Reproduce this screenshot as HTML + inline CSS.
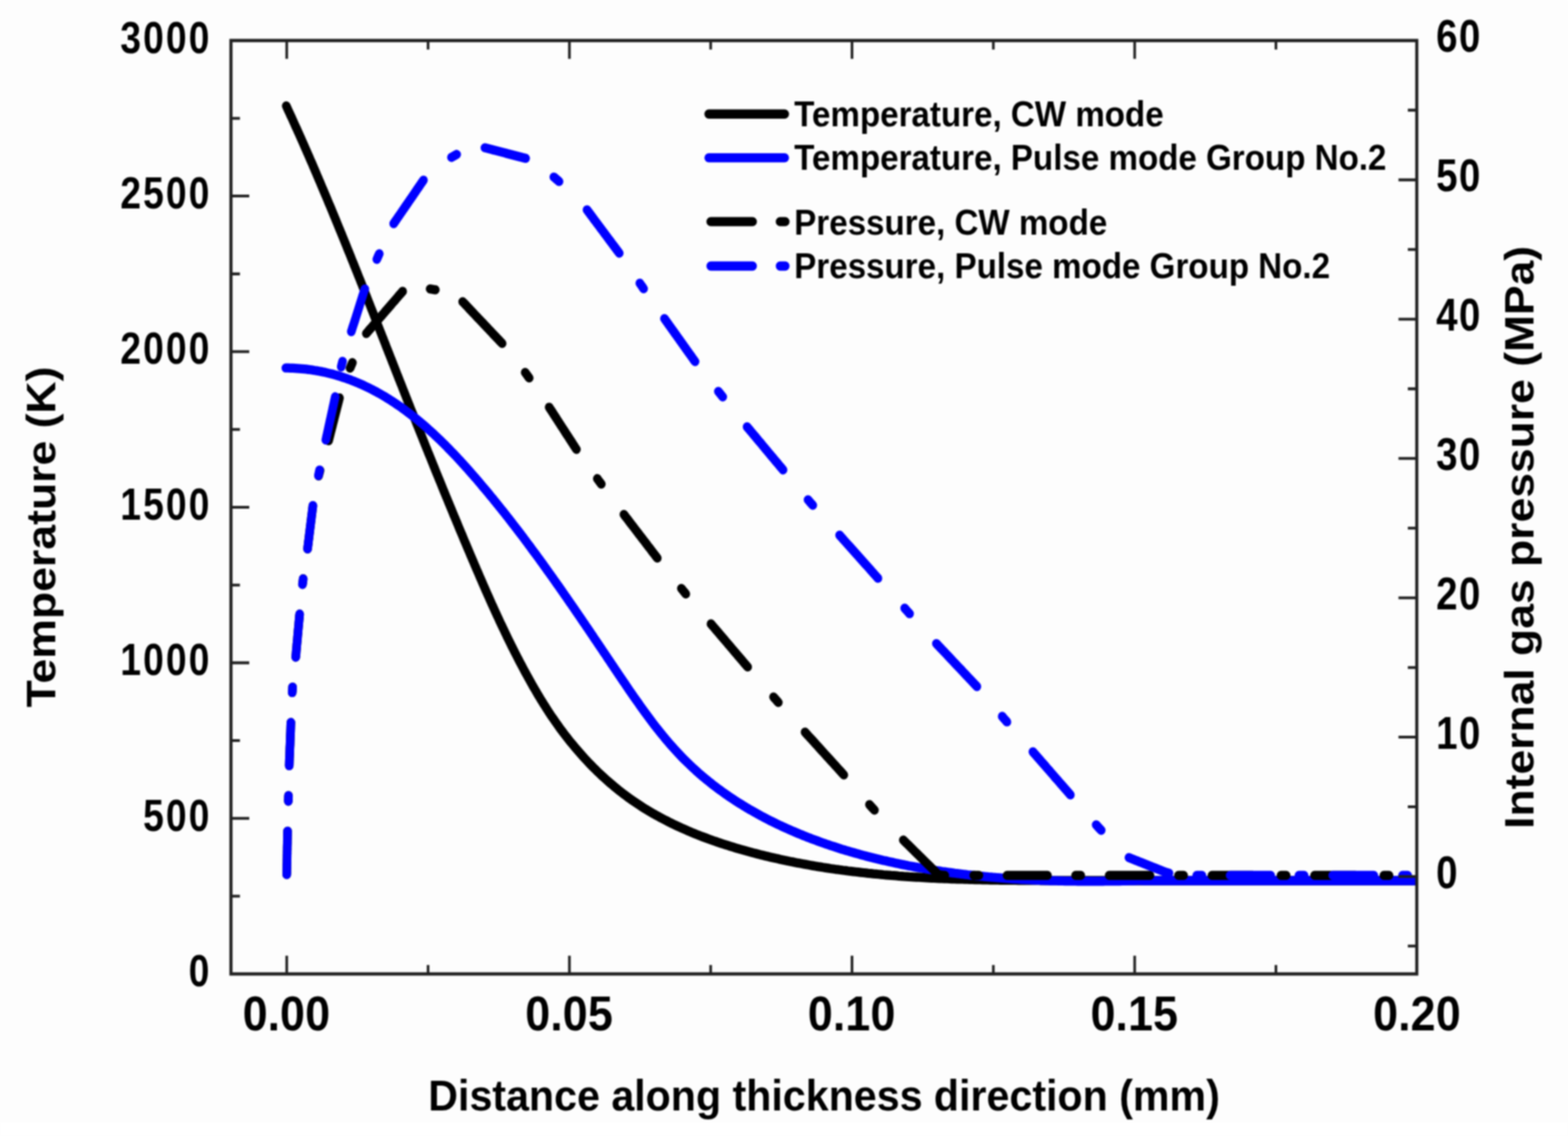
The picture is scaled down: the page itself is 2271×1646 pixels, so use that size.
<!DOCTYPE html><html><head><meta charset="utf-8"><title>Temperature and pressure profiles</title><style>html,body{margin:0;padding:0;background:#fdfdfd;}svg{display:block;}#w{filter:blur(1px);width:2271px;height:1646px;}</style></head><body>
<div id="w">
<svg xmlns="http://www.w3.org/2000/svg" width="2271" height="1646" viewBox="0 0 2271 1646">
<rect x="0" y="0" width="2271" height="1626" fill="#fdfdfd"/><rect x="0" y="1626" width="2271" height="20" fill="#ffffff"/>
<g transform="scale(1,1.062)" font-family="Liberation Sans, Arial, sans-serif" font-weight="bold">
<defs><clipPath id="pc"><rect x="334.5" y="55.3" width="1717.5" height="1273.5"/></clipPath></defs>
<g fill="none" stroke-width="12.5" stroke-linecap="round" stroke-linejoin="round" clip-path="url(#pc)">
<path d="M414.6,144.5 L416.1,147.6 L417.6,150.8 L419.2,153.9 L420.7,157.1 L422.3,160.2 L423.8,163.4 L425.3,166.5 L426.8,169.7 L428.3,172.9 L429.9,176 L431.4,179.2 L432.9,182.3 L434.4,185.5 L435.9,188.7 L437.4,191.9 L438.9,195 L440.4,198.2 L441.8,201.4 L443.3,204.5 L444.8,207.7 L446.3,210.9 L447.8,214.1 L449.2,217.3 L450.7,220.5 L452.2,223.6 L453.6,226.8 L455.1,230 L456.5,233.2 L458,236.4 L459.4,239.6 L460.9,242.8 L462.3,246 L463.8,249.2 L465.2,252.4 L466.6,255.6 L468.1,258.8 L469.5,262 L470.9,265.2 L472.4,268.4 L473.8,271.6 L475.2,274.8 L476.6,278 L478.1,281.2 L479.5,284.4 L480.9,287.6 L482.3,290.8 L483.7,294 L485.1,297.2 L486.5,300.4 L487.9,303.7 L489.3,306.9 L490.7,310.1 L492.1,313.3 L493.5,316.5 L494.9,319.7 L496.3,323 L497.7,326.2 L499.1,329.4 L500.5,332.6 L501.8,335.8 L503.2,339.1 L504.6,342.3 L506,345.5 L507.4,348.7 L508.7,351.9 L510.1,355.2 L511.5,358.4 L512.8,361.6 L514.2,364.8 L515.6,368.1 L517,371.3 L518.3,374.5 L519.7,377.8 L521.1,381 L522.4,384.2 L523.8,387.4 L525.1,390.7 L526.5,393.9 L527.9,397.1 L529.2,400.4 L530.6,403.6 L531.9,406.8 L533.3,410.1 L534.6,413.3 L536,416.5 L537.3,419.8 L538.7,423 L540,426.2 L541.4,429.4 L542.7,432.7 L544.1,435.9 L545.4,439.1 L546.8,442.4 L548.1,445.6 L549.5,448.8 L550.8,452.1 L552.2,455.3 L553.5,458.5 L554.9,461.8 L556.2,465 L557.6,468.2 L558.9,471.5 L560.2,474.7 L561.6,477.9 L562.9,481.2 L564.3,484.4 L565.6,487.6 L567,490.8 L568.3,494.1 L569.7,497.3 L571,500.5 L572.4,503.8 L573.7,507 L575,510.2 L576.4,513.4 L577.7,516.7 L579.1,519.9 L580.4,523.1 L581.8,526.3 L583.1,529.6 L584.5,532.8 L585.8,536 L587.2,539.2 L588.5,542.5 L589.9,545.7 L591.2,548.9 L592.6,552.1 L593.9,555.3 L595.3,558.6 L596.7,561.8 L598,565 L599.4,568.2 L600.7,571.4 L602.1,574.6 L603.4,577.9 L604.8,581.1 L606.2,584.3 L607.5,587.5 L608.9,590.7 L610.3,593.9 L611.6,597.1 L613,600.4 L614.4,603.6 L615.7,606.8 L617.1,610 L618.5,613.2 L619.8,616.4 L621.2,619.6 L622.6,622.8 L624,626 L625.3,629.2 L626.7,632.4 L628.1,635.7 L629.5,638.9 L630.8,642.1 L632.2,645.3 L633.6,648.5 L635,651.7 L636.4,654.9 L637.8,658.1 L639.2,661.3 L640.5,664.5 L641.9,667.7 L643.3,670.9 L644.7,674.1 L646.1,677.3 L647.5,680.5 L648.9,683.7 L650.3,686.9 L651.7,690.1 L653.1,693.3 L654.5,696.5 L655.9,699.7 L657.3,703 L658.8,706.2 L660.2,709.4 L661.6,712.6 L663,715.8 L664.4,719 L665.8,722.2 L667.2,725.4 L668.7,728.6 L670.1,731.8 L671.5,735 L672.9,738.2 L674.4,741.4 L675.8,744.6 L677.2,747.8 L678.7,751 L680.1,754.2 L681.5,757.4 L683,760.6 L684.4,763.8 L685.9,767 L687.3,770.2 L688.8,773.4 L690.2,776.6 L691.7,779.8 L693.2,783 L694.6,786.2 L696.1,789.4 L697.6,792.6 L699,795.8 L700.5,799 L702,802.2 L703.5,805.4 L705,808.6 L706.5,811.8 L708,814.9 L709.5,818.1 L711,821.3 L712.5,824.5 L714.1,827.7 L715.6,830.8 L717.1,834 L718.7,837.2 L720.2,840.4 L721.8,843.5 L723.3,846.7 L724.9,849.9 L726.5,853 L728.1,856.2 L729.7,859.3 L731.3,862.5 L732.9,865.6 L734.5,868.8 L736.1,871.9 L737.7,875 L739.4,878.2 L741,881.3 L742.7,884.4 L744.3,887.5 L746,890.6 L747.7,893.7 L749.4,896.9 L751.1,900 L752.8,903.1 L754.5,906.1 L756.3,909.2 L758,912.3 L759.7,915.4 L761.5,918.5 L763.3,921.5 L765.1,924.6 L766.9,927.6 L768.7,930.7 L770.5,933.7 L772.3,936.8 L774.2,939.8 L776.1,942.8 L777.9,945.8 L779.8,948.8 L781.7,951.8 L783.6,954.8 L785.6,957.7 L787.5,960.7 L789.5,963.6 L791.5,966.5 L793.5,969.5 L795.5,972.4 L797.5,975.3 L799.6,978.2 L801.7,981 L803.8,983.9 L805.9,986.7 L808,989.5 L810.2,992.4 L812.3,995.2 L814.5,997.9 L816.7,1000.7 L818.9,1003.4 L821.2,1006.2 L823.5,1008.9 L825.7,1011.6 L828.1,1014.3 L830.4,1016.9 L832.7,1019.6 L835.1,1022.2 L837.5,1024.8 L839.9,1027.4 L842.3,1030 L844.8,1032.6 L847.2,1035.1 L849.7,1037.6 L852.2,1040.1 L854.7,1042.6 L857.3,1045.1 L859.8,1047.5 L862.4,1049.9 L865,1052.3 L867.7,1054.7 L870.3,1057.1 L873,1059.4 L875.7,1061.7 L878.4,1064 L881.1,1066.3 L883.8,1068.5 L886.6,1070.7 L889.4,1072.9 L892.2,1075.1 L895,1077.3 L897.9,1079.4 L900.7,1081.5 L903.6,1083.6 L906.5,1085.6 L909.4,1087.7 L912.4,1089.7 L915.4,1091.7 L918.4,1093.6 L921.4,1095.5 L924.4,1097.4 L927.4,1099.3 L930.5,1101.2 L933.6,1103 L936.7,1104.8 L939.8,1106.6 L943,1108.3 L946.1,1110.1 L949.3,1111.8 L952.5,1113.4 L955.7,1115.1 L958.9,1116.7 L962.2,1118.3 L965.5,1119.9 L968.7,1121.5 L972,1123 L975.3,1124.5 L978.7,1126 L982,1127.5 L985.3,1128.9 L988.7,1130.4 L992.1,1131.8 L995.5,1133.2 L998.9,1134.5 L1002.3,1135.9 L1005.7,1137.2 L1009.1,1138.5 L1012.6,1139.8 L1016,1141.1 L1019.5,1142.3 L1023,1143.5 L1026.5,1144.7 L1030,1145.9 L1033.5,1147.1 L1037,1148.2 L1040.5,1149.4 L1044,1150.5 L1047.6,1151.6 L1051.1,1152.7 L1054.7,1153.7 L1058.2,1154.8 L1061.8,1155.8 L1065.3,1156.8 L1068.9,1157.8 L1072.5,1158.8 L1076.1,1159.7 L1079.7,1160.7 L1083.2,1161.6 L1086.8,1162.5 L1090.4,1163.5 L1094,1164.3 L1097.6,1165.2 L1101.2,1166.1 L1104.8,1166.9 L1108.5,1167.8 L1112.1,1168.6 L1115.7,1169.4 L1119.3,1170.2 L1122.9,1171 L1126.5,1171.7 L1130.1,1172.5 L1133.7,1173.2 L1137.4,1173.9 L1141,1174.7 L1144.6,1175.4 L1148.2,1176 L1151.9,1176.7 L1155.5,1177.4 L1159.1,1178 L1162.8,1178.7 L1166.4,1179.3 L1170,1179.9 L1173.7,1180.5 L1177.3,1181.1 L1180.9,1181.7 L1184.6,1182.3 L1188.2,1182.8 L1191.9,1183.4 L1195.5,1183.9 L1199.1,1184.4 L1202.8,1185 L1206.4,1185.5 L1210.1,1186 L1213.7,1186.4 L1217.4,1186.9 L1221,1187.4 L1224.7,1187.8 L1228.4,1188.3 L1232,1188.7 L1235.7,1189.1 L1239.3,1189.5 L1243,1189.9 L1246.6,1190.3 L1250.3,1190.7 L1254,1191.1 L1257.6,1191.5 L1261.3,1191.8 L1265,1192.2 L1268.6,1192.5 L1272.3,1192.8 L1276,1193.1 L1279.6,1193.5 L1283.3,1193.8 L1287,1194.1 L1290.6,1194.4 L1294.3,1194.6 L1298,1194.9 L1301.7,1195.2 L1305.3,1195.4 L1309,1195.7 L1312.7,1195.9 L1316.4,1196.2 L1320,1196.4 L1323.7,1196.6 L1327.4,1196.8 L1331.1,1197 L1334.7,1197.2 L1338.4,1197.4 L1342.1,1197.6 L1345.8,1197.8 L1349.5,1198 L1353.1,1198.1 L1356.8,1198.3 L1360.5,1198.5 L1364.2,1198.6 L1367.9,1198.8 L1371.6,1198.9 L1375.2,1199 L1378.9,1199.2 L1382.6,1199.3 L1386.3,1199.4 L1390,1199.5 L1393.7,1199.6 L1397.4,1199.7 L1401,1199.8 L1404.7,1199.9 L1408.4,1200 L1412.1,1200.1 L1415.8,1200.2 L1419.5,1200.3 L1423.2,1200.4 L1426.9,1200.4 L1430.5,1200.5 L1434.2,1200.6 L1437.9,1200.6 L1441.6,1200.7 L1445.3,1200.7 L1449,1200.8 L1452.7,1200.8 L1456.3,1200.9 L1460,1200.9 L1463.7,1201 L1467.4,1201 L1471.1,1201 L1474.8,1201.1 L1478.5,1201.1 L1482.2,1201.1 L1485.8,1201.1 L1489.5,1201.2 L1493.2,1201.2 L1496.9,1201.2 L1500.6,1201.2 L1504.3,1201.2 L1507.9,1201.3 L1511.6,1201.3 L1515.3,1201.3 L1519,1201.3 L1522.7,1201.3 L1526.4,1201.3 L1530,1201.3 L1533.7,1201.3 L1537.4,1201.3 L1541.1,1201.4 L1544.8,1201.4 L1548.4,1201.4 L1552.1,1201.4 L1555.8,1201.4 L1559.5,1201.4 L1563.1,1201.4 L1566.8,1201.4 L1570.5,1201.4 L1574.2,1201.4 L1577.8,1201.4 L1581.5,1201.5 L1585.2,1201.5 L1588.9,1201.5 L1592.5,1201.5 L1596.2,1201.5 L1599.9,1201.5 L1607.5,1201.5 L1615.2,1201.5 L1622.8,1201.5 L1630.5,1201.5 L1638.2,1201.5 L1645.8,1201.5 L1653.5,1201.5 L1661.2,1201.5 L1668.8,1201.5 L1676.5,1201.5 L1684.2,1201.5 L1691.8,1201.5 L1699.5,1201.5 L1707.1,1201.5 L1714.8,1201.5 L1722.5,1201.5 L1730.1,1201.5 L1737.8,1201.5 L1745.5,1201.5 L1753.1,1201.5 L1760.8,1201.5 L1768.5,1201.5 L1776.1,1201.5 L1783.8,1201.5 L1791.4,1201.5 L1799.1,1201.5 L1806.8,1201.5 L1814.4,1201.5 L1822.1,1201.5 L1829.8,1201.5 L1837.4,1201.5 L1845.1,1201.5 L1852.8,1201.5 L1860.4,1201.5 L1868.1,1201.5 L1875.7,1201.5 L1883.4,1201.5 L1891.1,1201.5 L1898.7,1201.5 L1906.4,1201.5 L1914.1,1201.5 L1921.7,1201.5 L1929.4,1201.5 L1937,1201.5 L1944.7,1201.5 L1952.4,1201.5 L1960,1201.5 L1967.7,1201.5 L1975.4,1201.5 L1983,1201.5 L1990.7,1201.5 L1998.4,1201.5 L2006,1201.5 L2013.7,1201.5 L2021.3,1201.5 L2029,1201.5 L2036.7,1201.5 L2044.3,1201.5 L2052,1201.5" stroke="#000"/>
<path d="M414,502.1 L417.3,502.1 L420.6,502.2 L423.9,502.3 L427.2,502.5 L430.4,502.7 L433.7,502.9 L436.9,503.1 L440.1,503.4 L443.3,503.7 L446.4,504.1 L449.6,504.5 L452.7,504.9 L455.8,505.4 L458.9,505.8 L462,506.4 L465.1,506.9 L468.1,507.5 L471.2,508.1 L474.2,508.8 L477.2,509.5 L480.2,510.2 L483.2,510.9 L486.1,511.7 L489.1,512.5 L492,513.3 L494.9,514.2 L497.8,515.1 L500.7,516 L503.5,517 L506.4,517.9 L509.2,519 L512.1,520 L514.9,521.1 L517.7,522.1 L520.4,523.3 L523.2,524.4 L526,525.6 L528.7,526.8 L531.4,528 L534.1,529.2 L536.8,530.5 L539.5,531.8 L542.2,533.1 L544.8,534.4 L547.5,535.8 L550.1,537.2 L552.7,538.6 L555.3,540 L557.9,541.5 L560.5,543 L563.1,544.5 L565.6,546 L568.1,547.5 L570.7,549.1 L573.2,550.7 L575.7,552.3 L578.2,553.9 L580.7,555.5 L583.1,557.2 L585.6,558.9 L588,560.6 L590.5,562.3 L592.9,564 L595.3,565.8 L597.7,567.6 L600.1,569.3 L602.5,571.2 L604.9,573 L607.2,574.8 L609.6,576.7 L611.9,578.5 L614.2,580.4 L616.5,582.3 L618.8,584.2 L621.1,586.2 L623.4,588.1 L625.7,590.1 L628,592 L630.2,594 L632.5,596 L634.7,598 L636.9,600 L639.2,602.1 L641.4,604.1 L643.6,606.2 L645.8,608.2 L647.9,610.3 L650.1,612.4 L652.3,614.5 L654.4,616.6 L656.6,618.7 L658.7,620.8 L660.9,622.9 L663,625.1 L665.1,627.2 L667.2,629.4 L669.3,631.6 L671.4,633.7 L673.5,635.9 L675.6,638.1 L677.7,640.3 L679.7,642.5 L681.8,644.7 L683.8,646.9 L685.9,649.1 L687.9,651.3 L690,653.5 L692,655.8 L694,658 L696,660.2 L698,662.5 L700,664.7 L702,666.9 L704,669.2 L706,671.4 L708,673.7 L709.9,675.9 L711.9,678.2 L713.9,680.4 L715.8,682.7 L717.8,685 L719.7,687.2 L721.7,689.5 L723.6,691.8 L725.5,694 L727.4,696.3 L729.4,698.6 L731.3,700.8 L733.2,703.1 L735.1,705.4 L737,707.7 L738.9,710 L740.8,712.3 L742.6,714.6 L744.5,716.8 L746.4,719.1 L748.3,721.4 L750.1,723.7 L752,726 L753.9,728.3 L755.7,730.6 L757.6,732.9 L759.4,735.3 L761.3,737.6 L763.1,739.9 L764.9,742.2 L766.8,744.5 L768.6,746.8 L770.4,749.2 L772.2,751.5 L774,753.8 L775.9,756.1 L777.7,758.5 L779.5,760.8 L781.3,763.1 L783.1,765.5 L784.9,767.8 L786.7,770.1 L788.5,772.5 L790.3,774.8 L792,777.2 L793.8,779.5 L795.6,781.9 L797.4,784.2 L799.2,786.6 L800.9,788.9 L802.7,791.3 L804.5,793.6 L806.2,796 L808,798.3 L809.8,800.7 L811.5,803.1 L813.3,805.4 L815,807.8 L816.8,810.2 L818.5,812.6 L820.3,814.9 L822,817.3 L823.8,819.7 L825.5,822.1 L827.3,824.4 L829,826.8 L830.8,829.2 L832.5,831.6 L834.2,834 L836,836.4 L837.7,838.7 L839.4,841.1 L841.2,843.5 L842.9,845.9 L844.6,848.3 L846.4,850.7 L848.1,853.1 L849.8,855.5 L851.6,857.9 L853.3,860.3 L855,862.7 L856.7,865.1 L858.5,867.5 L860.2,870 L861.9,872.4 L863.7,874.8 L865.4,877.2 L867.1,879.6 L868.8,882 L870.6,884.4 L872.3,886.9 L874,889.3 L875.8,891.7 L877.5,894.1 L879.2,896.5 L880.9,899 L882.7,901.4 L884.4,903.8 L886.1,906.3 L887.9,908.7 L889.6,911.1 L891.3,913.6 L893.1,916 L894.8,918.4 L896.5,920.9 L898.3,923.3 L900,925.7 L901.8,928.2 L903.5,930.6 L905.3,933 L907,935.5 L908.8,937.9 L910.5,940.3 L912.3,942.8 L914.1,945.2 L915.8,947.6 L917.6,950 L919.4,952.4 L921.2,954.8 L923,957.2 L924.8,959.6 L926.6,962 L928.4,964.4 L930.2,966.8 L932,969.2 L933.8,971.6 L935.7,973.9 L937.5,976.3 L939.4,978.6 L941.2,981 L943.1,983.3 L945,985.7 L946.8,988 L948.7,990.3 L950.6,992.6 L952.6,994.9 L954.5,997.2 L956.4,999.4 L958.3,1001.7 L960.3,1003.9 L962.3,1006.2 L964.2,1008.4 L966.2,1010.6 L968.2,1012.8 L970.2,1015 L972.2,1017.2 L974.3,1019.3 L976.3,1021.5 L978.4,1023.6 L980.4,1025.7 L982.5,1027.8 L984.6,1029.9 L986.7,1032 L988.8,1034.1 L991,1036.1 L993.1,1038.1 L995.3,1040.1 L997.5,1042.1 L999.7,1044.1 L1001.9,1046.1 L1004.1,1048 L1006.4,1050 L1008.6,1051.9 L1010.9,1053.8 L1013.1,1055.7 L1015.4,1057.5 L1017.7,1059.4 L1020.1,1061.2 L1022.4,1063 L1024.7,1064.8 L1027.1,1066.6 L1029.5,1068.4 L1031.8,1070.2 L1034.2,1071.9 L1036.6,1073.6 L1039.1,1075.4 L1041.5,1077.1 L1043.9,1078.7 L1046.4,1080.4 L1048.8,1082.1 L1051.3,1083.7 L1053.8,1085.3 L1056.3,1087 L1058.8,1088.5 L1061.3,1090.1 L1063.9,1091.7 L1066.4,1093.3 L1069,1094.8 L1071.5,1096.3 L1074.1,1097.8 L1076.7,1099.3 L1079.3,1100.8 L1081.9,1102.3 L1084.5,1103.7 L1087.1,1105.2 L1089.8,1106.6 L1092.4,1108 L1095.1,1109.4 L1097.7,1110.8 L1100.4,1112.2 L1103.1,1113.6 L1105.8,1114.9 L1108.5,1116.2 L1111.2,1117.6 L1113.9,1118.9 L1116.6,1120.2 L1119.4,1121.4 L1122.1,1122.7 L1124.9,1124 L1127.6,1125.2 L1130.4,1126.4 L1133.2,1127.7 L1136,1128.9 L1138.8,1130.1 L1141.6,1131.2 L1144.4,1132.4 L1147.2,1133.6 L1150,1134.7 L1152.8,1135.8 L1155.7,1137 L1158.5,1138.1 L1161.4,1139.2 L1164.2,1140.3 L1167.1,1141.3 L1169.9,1142.4 L1172.8,1143.4 L1175.7,1144.5 L1178.6,1145.5 L1181.5,1146.5 L1184.4,1147.5 L1187.3,1148.5 L1190.2,1149.5 L1193.1,1150.4 L1196,1151.4 L1199,1152.3 L1201.9,1153.3 L1204.8,1154.2 L1207.8,1155.1 L1210.7,1156 L1213.7,1156.9 L1216.6,1157.8 L1219.6,1158.7 L1222.5,1159.5 L1225.5,1160.4 L1228.5,1161.2 L1231.5,1162 L1234.4,1162.8 L1237.4,1163.6 L1240.4,1164.4 L1243.4,1165.2 L1246.4,1166 L1249.4,1166.8 L1252.4,1167.5 L1255.4,1168.3 L1258.4,1169 L1261.4,1169.7 L1264.4,1170.4 L1267.4,1171.1 L1270.5,1171.8 L1273.5,1172.5 L1276.5,1173.2 L1279.5,1173.9 L1282.6,1174.5 L1285.6,1175.2 L1288.6,1175.8 L1291.6,1176.4 L1294.7,1177.1 L1297.7,1177.7 L1300.7,1178.3 L1303.8,1178.9 L1306.8,1179.5 L1309.9,1180 L1312.9,1180.6 L1315.9,1181.2 L1319,1181.7 L1322,1182.2 L1325.1,1182.8 L1328.1,1183.3 L1331.1,1183.8 L1334.2,1184.3 L1337.2,1184.8 L1340.3,1185.3 L1343.3,1185.8 L1346.4,1186.3 L1349.4,1186.7 L1352.5,1187.2 L1355.5,1187.7 L1358.6,1188.1 L1361.6,1188.5 L1364.7,1189 L1367.7,1189.4 L1370.8,1189.8 L1373.8,1190.2 L1376.9,1190.6 L1379.9,1191 L1383,1191.4 L1386,1191.7 L1389.1,1192.1 L1392.1,1192.5 L1395.2,1192.8 L1398.2,1193.1 L1401.3,1193.5 L1404.3,1193.8 L1407.4,1194.1 L1410.5,1194.4 L1413.5,1194.8 L1416.6,1195.1 L1419.6,1195.4 L1422.7,1195.6 L1425.8,1195.9 L1428.8,1196.2 L1431.9,1196.5 L1434.9,1196.7 L1438,1197 L1441.1,1197.2 L1444.1,1197.5 L1447.2,1197.7 L1450.2,1197.9 L1453.3,1198.1 L1456.4,1198.4 L1459.4,1198.6 L1462.5,1198.8 L1465.6,1199 L1468.6,1199.2 L1471.7,1199.3 L1474.8,1199.5 L1477.8,1199.7 L1480.9,1199.9 L1484,1200 L1487,1200.2 L1490.1,1200.3 L1493.2,1200.5 L1496.2,1200.6 L1499.3,1200.7 L1502.4,1200.9 L1505.4,1201 L1508.5,1201.1 L1511.6,1201.2 L1514.6,1201.3 L1517.7,1201.4 L1520.8,1201.5 L1523.9,1201.6 L1526.9,1201.7 L1530,1201.7 L1533.1,1201.8 L1536.1,1201.9 L1539.2,1201.9 L1542.3,1202 L1545.4,1202.1 L1548.4,1202.1 L1551.5,1202.2 L1554.6,1202.2 L1557.6,1202.2 L1560.7,1202.3 L1563.8,1202.3 L1566.9,1202.3 L1569.9,1202.3 L1573,1202.3 L1576.1,1202.3 L1579.2,1202.3 L1582.2,1202.3 L1585.3,1202.3 L1588.4,1202.3 L1591.5,1202.3 L1594.5,1202.3 L1597.6,1202.3 L1600.7,1202.2 L1603.8,1202.2 L1606.8,1202.2 L1609.9,1202.2 L1613,1202.1 L1616.1,1202.1 L1619.1,1202 L1622.2,1202 L1625.3,1201.9 L1628.4,1201.9 L1631.4,1201.8 L1634.5,1201.7 L1637.6,1201.7 L1640.7,1201.6 L1643.8,1201.5 L1646.8,1201.4 L1649.9,1201.4 L1656.7,1201.5 L1663.5,1201.5 L1670.4,1201.5 L1677.2,1201.5 L1684,1201.5 L1690.8,1201.5 L1697.6,1201.5 L1704.4,1201.5 L1711.2,1201.5 L1718.1,1201.5 L1724.9,1201.5 L1731.7,1201.5 L1738.5,1201.5 L1745.3,1201.5 L1752.1,1201.5 L1759,1201.5 L1765.8,1201.5 L1772.6,1201.5 L1779.4,1201.5 L1786.2,1201.5 L1793,1201.5 L1799.8,1201.5 L1806.7,1201.5 L1813.5,1201.5 L1820.3,1201.5 L1827.1,1201.5 L1833.9,1201.5 L1840.7,1201.5 L1847.5,1201.5 L1854.4,1201.5 L1861.2,1201.5 L1868,1201.5 L1874.8,1201.5 L1881.6,1201.5 L1888.4,1201.5 L1895.3,1201.5 L1902.1,1201.5 L1908.9,1201.5 L1915.7,1201.5 L1922.5,1201.5 L1929.3,1201.5 L1936.1,1201.5 L1943,1201.5 L1949.8,1201.5 L1956.6,1201.5 L1963.4,1201.5 L1970.2,1201.5 L1977,1201.5 L1983.8,1201.5 L1990.7,1201.5 L1997.5,1201.5 L2004.3,1201.5 L2011.1,1201.5 L2017.9,1201.5 L2024.7,1201.5 L2031.6,1201.5 L2038.4,1201.5 L2045.2,1201.5 L2052,1201.5" stroke="#0000ff"/>
<path d="M415.3,1193 L415.3,1192.8 L415.4,1190 L415.4,1187.2 L415.5,1184.4 L415.5,1181.5 L415.6,1178.7 L415.7,1175.9 L415.7,1173.1 L415.8,1170.2 L415.8,1167.4 L415.9,1164.6 L415.9,1161.8 L416,1159 L416,1156.1 L416.1,1153.3 L416.2,1150.5 L416.2,1147.7 L416.3,1144.8 L416.3,1142 L416.4,1139.2 L416.4,1136.4 L416.5,1134M417.6,1093 L417.6,1092.6 L417.7,1089.8 L417.8,1086.9 L417.8,1085.5M418.9,1044.6 L418.9,1044.6 L419,1041.8 L419.1,1038.9 L419.2,1036.1 L419.3,1033.3 L419.5,1030.5 L419.6,1027.6 L419.7,1024.8 L419.8,1022 L419.9,1019.2 L420.1,1016.4 L420.2,1013.5 L420.3,1010.7 L420.4,1007.9 L420.5,1005.1 L420.6,1002.2 L420.8,999.4 L420.9,996.6 L421,993.8 L421.1,991 L421.2,988.1 L421.3,985.8M423.2,944.9 L423.2,944.4 L423.5,941.6 L423.7,938.8 L423.8,937.4M428.3,896.6 L428.3,896.6 L428.6,893.8 L428.9,891 L429.1,888.2 L429.4,885.4 L429.7,882.5 L429.9,879.7 L430.2,876.9 L430.5,874.1 L430.8,871.3 L431,868.5 L431.3,865.7 L431.6,862.9 L431.8,860 L432.1,857.2 L432.4,854.4 L432.7,851.6 L432.9,848.8 L433.2,846 L433.5,843.2 L433.7,840.4 L434,838M438.1,797.2 L438.1,797.2 L438.5,794.4 L438.9,791.6 L439.1,789.7M445.5,748.9 L445.5,748.8 L445.8,746 L446.2,743.2 L446.6,740.4 L446.9,737.6 L447.3,734.8 L447.7,731.9 L448,729.1 L448.4,726.3 L448.8,723.5 L449.1,720.7 L449.5,717.9 L449.9,715.1 L450.2,712.3 L450.6,709.5 L451,706.7 L451.3,703.9 L451.7,701.1 L452.1,698.3 L452.4,695.5 L452.8,692.7 L453.1,690.1M461.5,649.3 L461.5,649.2 L462.2,646.5 L463,643.7 L463.5,641.8M476,601.3 L476,601.2 L476.7,598.5 L477.5,595.7 L478.2,593 L478.9,590.3 L479.7,587.5 L480.4,584.8 L481.2,582.1 L481.9,579.3 L482.6,576.6 L483.4,573.8 L484.1,571.1 L484.8,568.4 L485.6,565.6 L486.3,562.9 L487.1,560.2 L487.8,557.4 L488.5,554.7 L489.3,551.9 L490,549.2 L490.8,546.5 L491.5,543.7 L491.7,542.9M507,502.3 L507.2,502 L508.3,499.4 L509.5,496.8 L510.4,494.8M530.6,455 L530.7,454.8 L532.7,452.7 L534.6,450.5 L536.6,448.4 L538.6,446.2 L540.5,444.1 L542.5,442 L544.4,439.8 L546.4,437.7 L548.3,435.5 L550.3,433.4 L552.3,431.3 L554.2,429.1 L556.2,427 L558.1,424.8 L560.1,422.7 L562.1,420.6 L564,418.4 L566,416.3 L567.9,414.1 L569.9,412 L571.9,409.9 L573.8,407.7 L575.8,405.6 L577.7,403.4 L579.7,401.3 L581.6,399.2 L583.2,397.5M623,394.2 L623.3,394.3 L626.3,394.7 L629.2,395.2 L630.5,395.4M670.1,411.7 L670.3,411.9 L672.4,413.9 L674.5,416 L676.5,418 L678.6,420.1 L680.6,422.2 L682.7,424.2 L684.8,426.3 L686.8,428.3 L688.9,430.4 L690.9,432.4 L693,434.5 L695.1,436.5 L697.1,438.6 L699.2,440.6 L701.2,442.7 L703.3,444.7 L705.4,446.8 L707.4,448.8 L709.5,450.9 L711.6,452.9 L713.6,455 L715.7,457.1 L717.7,459.1 L719.8,461.2 L721.9,463.2 L723.9,465.3 L726,467.3 L727.3,468.6M760.6,508.2 L760.9,508.5 L762.7,510.8 L764.4,513.1 L766.2,515.4 L766.5,515.7M795.4,555.6 L795.5,555.8 L797.1,558.2 L798.8,560.5 L800.4,562.9 L802,565.3 L803.7,567.7 L805.3,570 L806.9,572.4 L808.5,574.8 L810.2,577.2 L811.8,579.5 L813.4,581.9 L815.1,584.3 L816.7,586.6 L818.3,589 L819.9,591.4 L821.6,593.8 L823.2,596.1 L824.8,598.5 L826.5,600.9 L828.1,603.2 L829.7,605.6 L831.3,608 L833,610.4 L834.6,612.7 L834.9,613.1M865.1,653 L865.4,653.4 L867.1,655.7 L868.9,657.9 L870.7,660.2 L870.9,660.5M903.6,701.9 L903.8,702.1 L905.6,704.4 L907.4,706.6 L909.3,708.9 L911.1,711.1 L912.9,713.4 L914.7,715.6 L916.6,717.8 L918.4,720.1 L920.2,722.3 L922,724.6 L923.9,726.8 L925.7,729.1 L927.5,731.3 L929.3,733.5 L931.1,735.8 L933,738 L934.8,740.3 L936.6,742.5 L938.4,744.8 L940.3,747 L942.1,749.2 L943.9,751.5 L945.7,753.7 L947.6,756 L949.4,758.2 L951.2,760.5 L952,761.4M986.8,802.8 L986.9,802.9 L988.8,805.1 L990.7,807.3 L992.6,809.5 L993.3,810.3M1029.7,851.2 L1029.8,851.3 L1031.8,853.5 L1033.7,855.6 L1035.7,857.8 L1037.6,859.9 L1039.6,862.1 L1041.5,864.2 L1043.4,866.4 L1045.4,868.5 L1047.3,870.7 L1049.3,872.8 L1051.2,875 L1053.2,877.1 L1055.1,879.3 L1057.1,881.4 L1059,883.6 L1060.9,885.7 L1062.9,887.9 L1064.8,890 L1066.8,892.2 L1068.7,894.4 L1070.7,896.5 L1072.6,898.7 L1074.6,900.8 L1076.5,903 L1078.4,905.1 L1080.4,907.3 L1082.3,909.4 L1082.9,910M1120.3,950.9 L1120.5,951.1 L1122.5,953.2 L1124.5,955.4 L1126.5,957.5 L1127.3,958.4M1166,998.9 L1166.2,999.2 L1168.2,1001.3 L1170.2,1003.4 L1172.3,1005.5 L1174.3,1007.5 L1176.3,1009.6 L1178.3,1011.7 L1180.3,1013.8 L1182.3,1015.9 L1184.4,1018 L1186.4,1020.1 L1188.4,1022.2 L1190.4,1024.3 L1192.4,1026.4 L1194.4,1028.5 L1196.4,1030.6 L1198.5,1032.7 L1200.5,1034.7 L1202.5,1036.8 L1204.5,1038.9 L1206.5,1041 L1208.5,1043.1 L1210.6,1045.2 L1212.6,1047.3 L1214.6,1049.4 L1216.6,1051.5 L1218.6,1053.6 L1220.6,1055.7 L1222.2,1057.3M1259.3,1097.8 L1259.5,1098.1 L1261.5,1100.2 L1263.5,1102.3 L1265.6,1104.3 L1266.5,1105.3M1308.3,1146.2 L1308.6,1146.4 L1310.7,1148.4 L1312.8,1150.4 L1315,1152.3 L1317.1,1154.3 L1319.2,1156.3 L1321.4,1158.3 L1323.5,1160.3 L1325.6,1162.3 L1327.8,1164.3 L1329.9,1166.2 L1332,1168.2 L1334.2,1170.2 L1336.3,1172.2 L1338.4,1174.2 L1340.6,1176.2 L1342.7,1178.2 L1344.8,1180.1 L1347,1182.1 L1349.1,1184.1 L1351.2,1186.1 L1353.4,1188.1 L1355.5,1190.1 L1357.7,1192.1 L1360.1,1193.5 L1363.1,1193.9 L1366,1194.3 L1368.4,1194.3M1410.3,1194.3 L1410.5,1194.3 L1413.5,1194.3 L1416.5,1194.3 L1417.8,1194.3M1458.5,1194.3 L1458.5,1194.3 L1461.5,1194.3 L1464.5,1194.3 L1467.5,1194.3 L1470.5,1194.3 L1473.5,1194.3 L1476.5,1194.3 L1479.5,1194.3 L1482.5,1194.3 L1485.5,1194.3 L1488.5,1194.3 L1491.5,1194.3 L1494.5,1194.3 L1497.5,1194.3 L1500.5,1194.3 L1503.5,1194.3 L1506.5,1194.3 L1509.5,1194.3 L1512.5,1194.3 L1515.5,1194.3 L1517.1,1194.3M1557.8,1194.3 L1558,1194.3 L1561,1194.3 L1564,1194.3 L1565.3,1194.3M1606.4,1194.3 L1606.5,1194.3 L1609.5,1194.3 L1612.5,1194.3 L1615.5,1194.3 L1618.5,1194.3 L1621.5,1194.3 L1624.5,1194.3 L1627.5,1194.3 L1630.5,1194.3 L1633.5,1194.3 L1636.5,1194.3 L1639.5,1194.3 L1642.5,1194.3 L1645.5,1194.3 L1648.5,1194.3 L1651.5,1194.3 L1654.5,1194.3 L1657.5,1194.3 L1660.5,1194.3 L1663.5,1194.3 L1665.6,1194.3M1706.8,1194.3 L1707,1194.3 L1710,1194.3 L1713,1194.3 L1714.3,1194.3M1755.3,1194.3 L1755.5,1194.3 L1758.5,1194.3 L1761.5,1194.3 L1764.5,1194.3 L1767.5,1194.3 L1770.5,1194.3 L1773.5,1194.3 L1776.5,1194.3 L1779.5,1194.3 L1782.5,1194.3 L1785.5,1194.3 L1788.5,1194.3 L1791.5,1194.3 L1794.5,1194.3 L1797.5,1194.3 L1800.5,1194.3 L1803.5,1194.3 L1806.5,1194.3 L1809.5,1194.3 L1812.5,1194.3 L1814.3,1194.3M1855.3,1194.3 L1855.5,1194.3 L1858.5,1194.3 L1861.5,1194.3 L1862.8,1194.3M1903.9,1194.3 L1904,1194.3 L1907,1194.3 L1910,1194.3 L1913,1194.3 L1916,1194.3 L1919,1194.3 L1922,1194.3 L1925,1194.3 L1928,1194.3 L1931,1194.3 L1934,1194.3 L1937,1194.3 L1940,1194.3 L1943,1194.3 L1946,1194.3 L1949,1194.3 L1952,1194.3 L1955,1194.3 L1958,1194.3 L1961,1194.3 L1963.1,1194.3M2004.3,1194.3 L2004.5,1194.3 L2007.5,1194.3 L2010.5,1194.3 L2011.8,1194.3" stroke="#000"/>
<path d="M415.3,1193.1 L415.3,1192.8 L415.4,1190 L415.4,1187.2 L415.5,1184.4 L415.5,1181.5 L415.6,1178.7 L415.7,1175.9 L415.7,1173.1 L415.8,1170.3 L415.8,1167.4 L415.9,1164.6 L415.9,1161.8 L416,1159 L416,1156.1 L416.1,1153.3 L416.2,1150.5 L416.2,1147.7 L416.3,1144.8 L416.3,1142 L416.4,1139.2 L416.4,1136.4 L416.5,1134.1M417.6,1093.1 L417.6,1092.6 L417.7,1089.8 L417.8,1087 L417.8,1085.6M418.9,1044.7 L418.9,1044.6 L419,1041.8 L419.1,1039 L419.2,1036.1 L419.3,1033.3 L419.5,1030.5 L419.6,1027.7 L419.7,1024.8 L419.8,1022 L419.9,1019.2 L420.1,1016.4 L420.2,1013.6 L420.3,1010.7 L420.4,1007.9 L420.5,1005.1 L420.6,1002.3 L420.8,999.4 L420.9,996.6 L421,993.8 L421.1,991 L421.2,988.1 L421.3,985.8M423.2,944.9 L423.2,944.4 L423.5,941.6 L423.7,938.8 L423.8,937.4M428.3,896.6 L428.3,896.6 L428.6,893.8 L428.9,891 L429.1,888.2 L429.4,885.4 L429.7,882.6 L429.9,879.8 L430.2,876.9 L430.5,874.1 L430.8,871.3 L431,868.5 L431.3,865.7 L431.6,862.9 L431.8,860.1 L432.1,857.3 L432.4,854.4 L432.7,851.6 L432.9,848.8 L433.2,846 L433.5,843.2 L433.7,840.4 L434,838M438.1,797.3 L438.1,797.3 L438.5,794.5 L438.9,791.7 L439.1,789.8M445.5,748.8 L445.5,748.3 L445.9,745.5 L446.3,742.7 L446.6,739.9 L447,737.1 L447.4,734.3 L447.7,731.5 L448.1,728.7 L448.5,725.9 L448.8,723.1 L449.2,720.3 L449.6,717.5 L449.9,714.7 L450.3,711.9 L450.7,709.1 L451,706.3 L451.4,703.5 L451.8,700.7 L452.1,697.9 L452.5,695.1 L452.9,692.3 L453.2,689.8M461.2,648.8 L461.2,648.7 L461.8,646 L462.4,643.2 L462.8,641.3M471.9,600.3 L471.9,600.3 L472.5,597.6 L473.1,594.8 L473.8,592.1 L474.4,589.3 L475.1,586.5 L475.7,583.8 L476.3,581 L477,578.3 L477.6,575.5 L478.3,572.7 L478.9,570 L479.6,567.2 L480.2,564.5 L480.8,561.7 L481.5,558.9 L482.1,556.2 L482.8,553.4 L483.4,550.7 L484,547.9 L484.7,545.1 L485.3,542.4 L485.5,541.4M494.2,500.5 L494.2,500.4 L494.9,497.6 L495.6,494.9 L496.1,493M508.8,452.5 L508.8,452.4 L509.7,449.7 L510.6,447 L511.5,444.3 L512.5,441.6 L513.4,439 L514.3,436.3 L515.2,433.6 L516.1,430.9 L517,428.2 L517.9,425.5 L518.8,422.8 L519.7,420.1 L520.6,417.4 L521.5,414.7 L522.4,412 L523.3,409.3 L524.2,406.6 L525.1,403.9 L526,401.3 L526.9,398.6 L527.8,395.9 L528.4,394.3M545.8,353.8 L545.9,353.5 L547.1,350.9 L548.3,348.3 L549.3,346.3M570.2,305.1 L570.2,305 L571.9,302.7 L573.6,300.4 L575.3,298 L577,295.7 L578.7,293.4 L580.4,291.1 L582.1,288.7 L583.8,286.4 L585.5,284.1 L587.2,281.7 L588.9,279.4 L590.6,277.1 L592.3,274.7 L594,272.4 L595.7,270.1 L597.4,267.7 L599.1,265.4 L600.8,263.1 L602.4,260.8 L604.1,258.4 L605.8,256.1 L607.5,253.8 L609.2,251.4 L610.9,249.1 L612.6,246.8 L613.3,245.8M653.9,214.7 L654.1,214.6 L656.8,213.2 L659.4,211.8 L661.4,210.7M702.3,201.6 L702.6,201.6 L705.5,202.3 L708.4,203 L711.3,203.7 L714.2,204.5 L717.1,205.2 L720,205.9 L722.9,206.6 L725.8,207.3 L728.7,208 L731.6,208.7 L734.5,209.5 L737.4,210.2 L740.3,210.9 L743.2,211.6 L746.1,212.3 L749,213 L751.9,213.7 L754.8,214.4 L757.7,215.2 L760.6,215.9 L761.3,216M802.2,241.6 L802.6,241.8 L804.8,243.7 L807.1,245.5 L809.4,247.4 L809.7,247.6M850.2,286.3 L850.4,286.6 L852.2,288.8 L854,291.1 L855.8,293.4 L857.6,295.6 L859.3,297.9 L861.1,300.2 L862.9,302.4 L864.7,304.7 L866.5,307 L868.3,309.2 L870.1,311.5 L871.9,313.8 L873.7,316 L875.5,318.3 L877.3,320.6 L879,322.8 L880.8,325.1 L882.6,327.4 L884.4,329.6 L886.2,331.9 L888,334.2 L889.8,336.4 L891.6,338.7 L893.4,341 L895.2,343.2 L896.9,345.4M926.7,386.4 L926.9,386.7 L928.6,389 L930.3,391.3 L932,393.7 L932.2,393.9M962.3,434.7 L962.6,435 L964.3,437.3 L966.1,439.6 L967.8,441.9 L969.5,444.2 L971.3,446.5 L973,448.8 L974.8,451.1 L976.5,453.4 L978.2,455.7 L980,458 L981.7,460.3 L983.5,462.6 L985.2,464.9 L986.9,467.2 L988.7,469.5 L990.4,471.8 L992.2,474.1 L993.9,476.4 L995.6,478.7 L997.4,481 L999.1,483.3 L1000.9,485.6 L1002.6,487.9 L1004.3,490.2 L1006.1,492.5 L1006.7,493.3M1040.4,534 L1040.5,534.1 L1042.4,536.3 L1044.2,538.5 L1046.1,540.7 L1046.8,541.5M1082,582.3 L1082,582.4 L1083.9,584.5 L1085.9,586.7 L1087.8,588.9 L1089.7,591 L1091.6,593.2 L1093.6,595.4 L1095.5,597.5 L1097.4,599.7 L1099.3,601.9 L1101.3,604 L1103.2,606.2 L1105.1,608.4 L1107,610.5 L1108.9,612.7 L1110.9,614.9 L1112.8,617.1 L1114.7,619.2 L1116.6,621.4 L1118.6,623.6 L1120.5,625.7 L1122.4,627.9 L1124.3,630.1 L1126.3,632.2 L1128.2,634.4 L1130.1,636.6 L1132,638.7 L1134,640.9 L1134.1,641.1M1170.3,681.9 L1170.5,682.1 L1172.4,684.2 L1174.4,686.4 L1176.4,688.5 L1177.2,689.4M1216,730.2 L1216.1,730.2 L1218,732.3 L1220,734.4 L1222,736.6 L1224,738.7 L1226,740.8 L1228,742.9 L1230,745 L1232,747.1 L1234,749.2 L1236,751.3 L1238,753.4 L1240,755.5 L1242,757.6 L1244,759.8 L1246,761.9 L1248,764 L1250,766.1 L1252,768.2 L1254,770.3 L1256,772.4 L1258,774.5 L1260,776.6 L1261.9,778.7 L1263.9,780.8 L1265.9,783 L1267.9,785.1 L1269.9,787.2 L1271.6,789M1310.3,829.8 L1310.5,830 L1312.5,832.2 L1314.5,834.3 L1316.5,836.4 L1317.4,837.3M1356.2,878.1 L1356.6,878.4 L1358.6,880.5 L1360.7,882.5 L1362.8,884.6 L1364.8,886.6 L1366.9,888.7 L1368.9,890.7 L1371,892.8 L1373,894.8 L1375.1,896.9 L1377.2,899 L1379.2,901 L1381.3,903.1 L1383.3,905.1 L1385.4,907.2 L1387.4,909.2 L1389.5,911.3 L1391.6,913.3 L1393.6,915.4 L1395.7,917.5 L1397.7,919.5 L1399.8,921.6 L1401.8,923.6 L1403.9,925.7 L1406,927.7 L1408,929.8 L1410.1,931.8 L1412.1,933.9 L1414.2,936 L1414.9,936.7M1451.5,977.4 L1451.7,977.6 L1453.6,979.8 L1455.6,981.9 L1457.5,984 L1458.4,984.9M1496,1025.7 L1496.2,1026 L1498.2,1028.1 L1500.2,1030.2 L1502.1,1032.4 L1504.1,1034.5 L1506.1,1036.6 L1508,1038.8 L1510,1040.9 L1512,1043 L1514,1045.1 L1515.9,1047.3 L1517.9,1049.4 L1519.9,1051.5 L1521.8,1053.7 L1523.8,1055.8 L1525.8,1057.9 L1527.7,1060.1 L1529.7,1062.2 L1531.7,1064.3 L1533.7,1066.5 L1535.6,1068.6 L1537.6,1070.7 L1539.6,1072.8 L1541.5,1075 L1543.5,1077.1 L1545.5,1079.2 L1547.4,1081.4 L1549.4,1083.5 L1550.3,1084.5M1587.6,1125.3 L1587.9,1125.6 L1589.9,1127.7 L1591.9,1129.8 L1594,1131.8 L1594.9,1132.8M1635.1,1170.1 L1635.5,1170.3 L1638.3,1171.3 L1641.1,1172.4 L1643.9,1173.4 L1646.7,1174.4 L1649.5,1175.5 L1652.3,1176.5 L1655,1177.6 L1657.8,1178.6 L1660.6,1179.7 L1663.4,1180.7 L1666.2,1181.8 L1669,1182.8 L1671.8,1183.8 L1674.5,1184.9 L1677.3,1185.9 L1680.1,1187 L1682.9,1188 L1685.7,1189.1 L1688.5,1190.1 L1691.3,1190.9 L1693.1,1191.2M1733.3,1194.3 L1733.5,1194.3 L1736.5,1194.3 L1739.5,1194.3 L1740.8,1194.3M1781.6,1194.3 L1782,1194.3 L1785,1194.3 L1788,1194.3 L1791,1194.3 L1794,1194.3 L1797,1194.3 L1800,1194.3 L1803,1194.3 L1806,1194.3 L1809,1194.3 L1812,1194.3 L1815,1194.3 L1818,1194.3 L1821,1194.3 L1824,1194.3 L1827,1194.3 L1830,1194.3 L1833,1194.3 L1836,1194.3 L1839,1194.3 L1840.4,1194.3M1881.3,1194.3 L1881.5,1194.3 L1884.5,1194.3 L1887.5,1194.3 L1888.8,1194.3M1930.2,1194.3 L1930.5,1194.3 L1933.5,1194.3 L1936.5,1194.3 L1939.5,1194.3 L1942.5,1194.3 L1945.5,1194.3 L1948.5,1194.3 L1951.5,1194.3 L1954.5,1194.3 L1957.5,1194.3 L1960.5,1194.3 L1963.5,1194.3 L1966.5,1194.3 L1969.5,1194.3 L1972.5,1194.3 L1975.5,1194.3 L1978.5,1194.3 L1981.5,1194.3 L1984.5,1194.3 L1987.5,1194.3 L1989.8,1194.3M2031.3,1194.3 L2031.5,1194.3 L2034.5,1194.3 L2037.5,1194.3 L2038.8,1194.3" stroke="#0000ff"/>
</g>
<rect x="334.5" y="55.3" width="1717.5" height="1273.5" fill="none" stroke="#202020" stroke-width="4.5"/>
<path d="M415.3,1328.8V1303.9M415.3,55.3V80.2M620,1328.8V1316.6M620,55.3V67.5M824.7,1328.8V1303.9M824.7,55.3V80.2M1029.3,1328.8V1316.6M1029.3,55.3V67.5M1234,1328.8V1303.9M1234,55.3V80.2M1438.7,1328.8V1316.6M1438.7,55.3V67.5M1643.4,1328.8V1303.9M1643.4,55.3V80.2M1848,1328.8V1316.6M1848,55.3V67.5M334.5,1222.7H347.5M334.5,1116.6H361M334.5,1010.4H347.5M334.5,904.3H361M334.5,798.2H347.5M334.5,692H361M334.5,585.9H347.5M334.5,479.8H361M334.5,373.7H347.5M334.5,267.5H361M334.5,161.4H347.5M2052.0,1290.8H2039M2052.0,1195.8H2025.5M2052.0,1100.7H2039M2052.0,1005.7H2025.5M2052.0,910.7H2039M2052.0,815.6H2025.5M2052.0,720.6H2039M2052.0,625.5H2025.5M2052.0,530.5H2039M2052.0,435.4H2025.5M2052.0,340.4H2039M2052.0,245.4H2025.5M2052.0,150.3H2039" stroke="#202020" stroke-width="3.8" fill="none"/>
<g fill="#000"><text transform="translate(0,1345.7) scale(0.9,1.02)" x="303.6" y="0" font-size="60">0</text><text transform="translate(0,1133.5) scale(0.9,1.02)" x="230.3 267 303.6" y="0" font-size="60">500</text><text transform="translate(0,921.2) scale(0.9,1.02)" x="193.6 230.3 267 303.6" y="0" font-size="60">1000</text><text transform="translate(0,709) scale(0.9,1.02)" x="193.6 230.3 267 303.6" y="0" font-size="60">1500</text><text transform="translate(0,496.7) scale(0.9,1.02)" x="193.6 230.3 267 303.6" y="0" font-size="60">2000</text><text transform="translate(0,284.4) scale(0.9,1.02)" x="193.6 230.3 267 303.6" y="0" font-size="60">2500</text><text transform="translate(0,72.2) scale(0.9,1.02)" x="193.6 230.3 267 303.6" y="0" font-size="60">3000</text><text transform="translate(0,1211.4) scale(0.93,1.04)" x="2236.5" y="0" font-size="60">0</text><text transform="translate(0,1021.3) scale(0.93,1.04)" x="2236.5 2272" y="0" font-size="60">10</text><text transform="translate(0,831.2) scale(0.93,1.04)" x="2236.5 2272" y="0" font-size="60">20</text><text transform="translate(0,641.2) scale(0.93,1.04)" x="2236.5 2272" y="0" font-size="60">30</text><text transform="translate(0,451.1) scale(0.93,1.04)" x="2236.5 2272" y="0" font-size="60">40</text><text transform="translate(0,261) scale(0.93,1.04)" x="2236.5 2272" y="0" font-size="60">50</text><text transform="translate(0,70.9) scale(0.93,1.04)" x="2236.5 2272" y="0" font-size="60">60</text><text transform="translate(0,1406.3) scale(1.0,1.02)" x="351.4 387.6 405.6 442" y="0" font-size="65">0.00</text><text transform="translate(0,1406.3) scale(1.0,1.02)" x="760.8 796.9 815 851.4" y="0" font-size="65">0.05</text><text transform="translate(0,1406.3) scale(1.0,1.02)" x="1170.1 1206.3 1224.3 1260.7" y="0" font-size="65">0.10</text><text transform="translate(0,1406.3) scale(1.0,1.02)" x="1579.5 1615.6 1633.7 1670.1" y="0" font-size="65">0.15</text><text transform="translate(0,1406.3) scale(1.0,1.02)" x="1988.8 2025 2043 2079.4" y="0" font-size="65">0.20</text></g>
<text font-size="60" text-anchor="middle" transform="translate(1193.5,1515.4) scale(0.994,1)">Distance along thickness direction (mm)</text>
<text font-size="60" text-anchor="middle" transform="translate(80,732.6) rotate(-90) scale(1.014,1)">Temperature (K)</text>
<text font-size="60" text-anchor="middle" transform="translate(2221,733.1) rotate(-90) scale(1.011,1)">Internal gas pressure (MPa)</text>
<path d="M1026.5,155.6H1136.5" stroke="#000" stroke-width="12.5" stroke-linecap="round" fill="none"/>
<text font-size="48" x="1150.3" y="172.6">Temperature, CW mode</text>
<path d="M1026.5,215.3H1136.5" stroke="#0000ff" stroke-width="12.5" stroke-linecap="round" fill="none"/>
<text font-size="48" x="1150.3" y="232.1">Temperature, Pulse mode Group No.2</text>
<path d="M1029.4,302.4H1090M1129.8,302.4H1137.3" stroke="#000" stroke-width="12.5" stroke-linecap="round" fill="none"/>
<text font-size="48" x="1150.3" y="320">Pressure, CW mode</text>
<path d="M1029.4,363H1090M1129.8,363H1137.3" stroke="#0000ff" stroke-width="12.5" stroke-linecap="round" fill="none"/>
<text font-size="48" x="1150.3" y="379.8">Pressure, Pulse mode Group No.2</text>
</g></svg></div></body></html>
